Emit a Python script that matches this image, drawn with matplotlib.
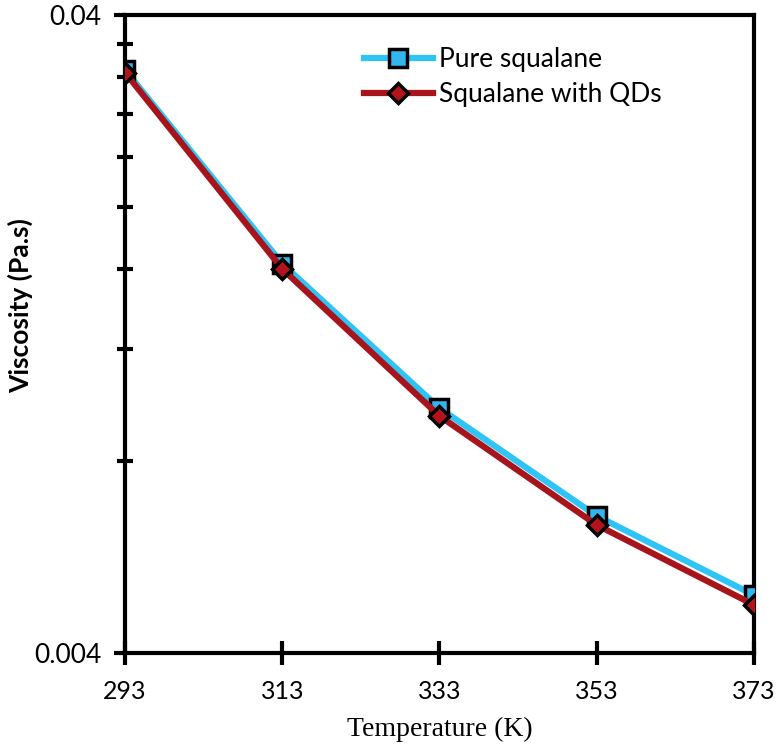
import matplotlib
matplotlib.use("Agg")
import matplotlib.pyplot as plt
from matplotlib.ticker import FixedLocator, NullFormatter

# temperatures (K) and viscosities (Pa.s)
temperature = [293, 313, 333, 353, 373]
pure_squalane = [0.0328, 0.0163, 0.00968, 0.00656, 0.00493]
squalane_qds = [0.0325, 0.0160, 0.00941, 0.00635, 0.00476]

y_major = [0.004, 0.04]
y_major_labels = ["0.004", "0.04"]
y_minor = [0.004 * k for k in range(2, 10)]

sans = "Lato"
serif = "Liberation Serif"

fig = plt.figure(figsize=(7.82, 7.54), dpi=100)
ax = fig.add_axes([0.160, 0.134, 0.804, 0.846])

ax.plot(temperature, pure_squalane, color="#2EC4F5", lw=4.5,
        marker="s", ms=13, mfc="#33B5EE", mec="black", mew=2.5,
        label="Pure squalane", zorder=3)
ax.plot(temperature, squalane_qds, color="#A8141C", lw=4.5,
        marker="D", ms=10, mfc="#B3141C", mec="black", mew=2.5,
        label="Squalane with QDs", zorder=4)

ax.set_yscale("log")
ax.set_ylim(0.004, 0.04)
ax.set_xlim(293, 373)
ax.yaxis.set_major_locator(FixedLocator(y_major))
ax.set_yticklabels(y_major_labels)
ax.yaxis.set_minor_locator(FixedLocator(y_minor))
ax.yaxis.set_minor_formatter(NullFormatter())
ax.set_xticks(temperature)

for s in ax.spines.values():
    s.set_linewidth(3)
ax.tick_params(axis="y", which="major", direction="out", length=8, width=3,
               labelsize=19, pad=9)
ax.tick_params(axis="y", which="minor", direction="inout", length=11, width=3)
ax.tick_params(axis="x", which="major", direction="inout", length=17, width=3,
               labelsize=18, pad=11)
for lab in ax.get_xticklabels() + ax.get_yticklabels():
    lab.set_fontfamily(sans)

ax.set_xlabel("Temperature (K)", fontsize=20, family=serif, labelpad=10)
ax.set_ylabel("Viscosity (Pa.s)", fontsize=19, family=sans,
              fontweight="bold")
ax.yaxis.set_label_coords(-0.146, 0.545)

leg = ax.legend(loc="upper left", bbox_to_anchor=(0.355, 0.975), frameon=False,
                prop={"family": sans, "size": 19}, handlelength=2.6,
                handletextpad=0.25, labelspacing=0.38, borderaxespad=0.2)

fig.savefig("out.png", dpi=100)
